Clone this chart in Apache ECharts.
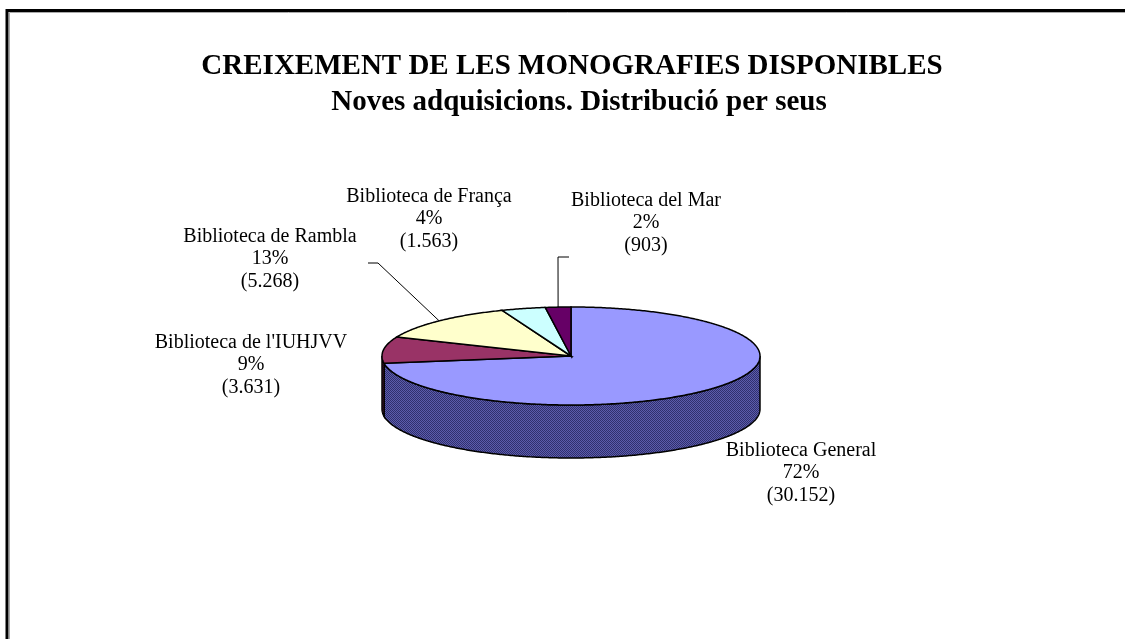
<!DOCTYPE html>
<html>
<head>
<meta charset="utf-8">
<script src="https://cdn.jsdelivr.net/npm/echarts@6/dist/echarts.min.js"></script>
<style>
  html, body { margin: 0; padding: 0; background: #fff; }
  #chart { width: 1125px; height: 639px; }
</style>
</head>
<body>
<div id="chart"></div>
<script>
var names = ['Biblioteca General', "Biblioteca de l'IUHJVV", 'Biblioteca de Rambla', 'Biblioteca de França', 'Biblioteca del Mar'];
var values = [30152, 3631, 5268, 1563, 903];
var percentLabels = ['72%', '9%', '13%', '4%', '2%'];

// styles / layout
var topColors = ['#9999ff', '#993366', '#ffffcc', '#ccffff', '#660066'];
var sideColors = [['#5c5cac', '#30306e'], ['#6b2447', '#4a1830'], ['#b3b38f', '#8a8a6e'], ['#8fb3b3', '#6e8a8a'], ['#470047', '#300030']];
var pie = {cx: 571, cy: 356, rx: 189, ry: 49, depth: 53};
var labelPos = [[801, 439], [251, 331], [270, 225], [429, 185], [646, 189]];
var leaders = {2: [[368, 263], [378, 263]], 4: [[569, 257], [558, 257]]};

var total = values.reduce(function (a, b) { return a + b; }, 0);
var cum = [0];
values.forEach(function (v, i) { cum.push(cum[i] + v); });

function fmt(n) {
    return String(n).replace(/\B(?=(\d{3})+(?!\d))/g, '.');
}

function makePattern(c) {
    var cv = document.createElement('canvas');
    cv.width = 2; cv.height = 2;
    var ctx = cv.getContext('2d');
    ctx.fillStyle = c[0]; ctx.fillRect(0, 0, 2, 2);
    ctx.fillStyle = c[1]; ctx.fillRect(0, 0, 1, 1); ctx.fillRect(1, 1, 1, 1);
    return {image: cv, repeat: 'repeat'};
}

function pt(t, dy) {
    return [pie.cx + pie.rx * Math.sin(t), pie.cy - pie.ry * Math.cos(t) + (dy || 0)];
}

function arc(a, b, dy) {
    var pts = [], n = Math.max(2, Math.ceil((b - a) / 0.01));
    for (var k = 0; k <= n; k++) pts.push(pt(a + (b - a) * k / n, dy));
    return pts;
}

function renderItem(params, api) {
    var i = params.dataIndex;
    var a = cum[i] / total * Math.PI * 2;
    var b = cum[i + 1] / total * Math.PI * 2;
    var children = [];
    // front side wall
    var s = Math.max(a, Math.PI / 2), e = Math.min(b, Math.PI * 1.5);
    if (e > s) {
        var side = arc(s, e, 0).concat(arc(s, e, pie.depth).reverse());
        children.push({
            type: 'polygon',
            shape: {points: side},
            style: {fill: makePattern(sideColors[i]), stroke: '#000', lineWidth: 1.5}
        });
    }
    // top face
    children.push({
        type: 'polygon',
        shape: {points: [[pie.cx, pie.cy]].concat(arc(a, b, 0))},
        style: {fill: topColors[i], stroke: '#000', lineWidth: 1.5}
    });
    // leader line
    if (leaders[i]) {
        var mid = pt((a + b) / 2, 0);
        children.push({
            type: 'polyline',
            shape: {points: leaders[i].concat([mid])},
            style: {stroke: '#000', lineWidth: 1, fill: null}
        });
    }
    // label
    children.push({
        type: 'text',
        x: labelPos[i][0],
        y: labelPos[i][1],
        style: {
            text: names[i] + '\n' + percentLabels[i] + '\n(' + fmt(values[i]) + ')',
            align: 'center',
            verticalAlign: 'top',
            fontFamily: 'Liberation Serif',
            fontSize: 20,
            lineHeight: 22.5,
            fill: '#000'
        }
    });
    return {type: 'group', children: children};
}

var chart = echarts.init(document.getElementById('chart'));
var option = {
    backgroundColor: '#fff',
    animation: false,
    title: [
        {
            text: 'CREIXEMENT DE LES MONOGRAFIES DISPONIBLES',
            left: 567, top: 47, textAlign: 'center',
            textStyle: {fontFamily: 'Liberation Serif', fontWeight: 'bold', fontSize: 29, lineHeight: 30, color: '#000'}
        },
        {
            text: 'Noves adquisicions. Distribució per seus',
            left: 574, top: 83, textAlign: 'center',
            textStyle: {fontFamily: 'Liberation Serif', fontWeight: 'bold', fontSize: 29, lineHeight: 30, color: '#000'}
        }
    ],
    graphic: [
        {type: 'rect', shape: {x: 7, y: 10.5, width: 1300, height: 800}, style: {fill: null, stroke: '#000', lineWidth: 3}},
        {type: 'polyline', shape: {points: [[9.5, 700], [9.5, 12.5], [1300, 12.5]]}, style: {fill: null, stroke: '#aaa', lineWidth: 1}}
    ],
    series: [{
        type: 'custom',
        coordinateSystem: 'none',
        renderItem: renderItem,
        data: values.map(function (v) { return [v]; })
    }]
};
chart.setOption(option);
</script>
</body>
</html>
